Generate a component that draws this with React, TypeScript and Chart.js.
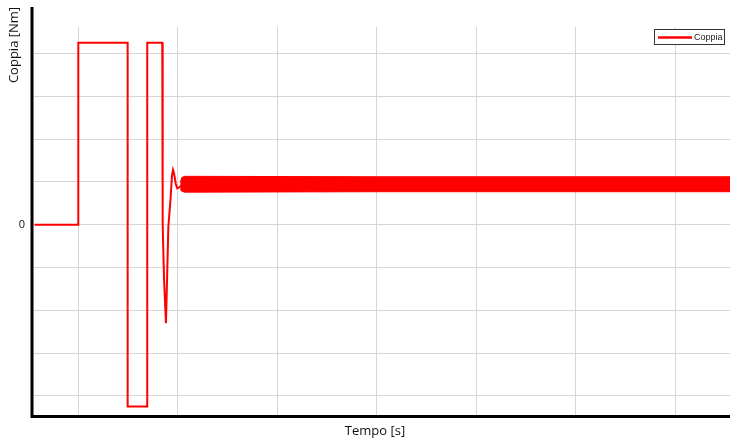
import React, { useEffect, useRef } from "react";
import { Chart, registerables } from "chart.js";

Chart.register(...registerables);

// Time axis (grid units) and torque values
const timeMain = [-0.44, 0, 0, 0.496, 0.496, 0.693, 0.693, 0.844, 0.848, 0.862, 0.881, 0.893, 0.905, 0.927, 0.942, 0.952, 0.962, 0.98, 0.995, 1.02, 1.05, 6.6];
const coppia = [0, 0, 4.25, 4.25, -4.25, -4.25, 4.25, 4.25, 0, -1.3, -2.3, -1.2, -0.05, 0.6, 1.15, 1.28, 1.2, 0.95, 0.85, 0.88, 0.95, 0.95];

// Ripple band of the steady-state torque
const timeBand = [1.025, 1.04, 1.07, 3.0, 6.6];
const bandUpper = [0.98, 1.1, 1.13, 1.12, 1.12];
const bandLower = [0.84, 0.78, 0.76, 0.77, 0.77];

const xGridTicks = [0, 1, 2, 3, 4, 5, 6];
const yGridTicks = [-4, -3, -2, -1, 0, 1, 2, 3, 4];
const yLabelled = [0];

const seriesLabel = "Coppia";
const xTitle = "Tempo [s]";
const yTitle = "Coppia [Nm]";

const RED = "#ff0000";
const GRID = "#d6d6d6";

const decorations = {
  id: "decorations",
  afterDraw(chart: any) {
    const ctx = chart.ctx;
    const area = chart.chartArea;
    ctx.save();
    // thick axis lines
    ctx.strokeStyle = "#000";
    ctx.lineWidth = 3;
    ctx.beginPath();
    ctx.moveTo(area.left, 7);
    ctx.lineTo(area.left, area.bottom + 1.5);
    ctx.moveTo(area.left - 1.5, area.bottom + 0.5);
    ctx.lineTo(area.right, area.bottom + 0.5);
    ctx.stroke();

    // axis titles
    ctx.fillStyle = "#111";
    ctx.font = "13px 'Open Sans'";
    ctx.textAlign = "center";
    ctx.textBaseline = "middle";
    ctx.fillText(xTitle, 375, 431);
    ctx.save();
    ctx.translate(14, 45);
    ctx.rotate(-Math.PI / 2);
    ctx.fillText(yTitle, 0, 0);
    ctx.restore();

    // legend
    ctx.fillStyle = "#fff";
    ctx.fillRect(654.5, 29.5, 70, 15);
    ctx.strokeStyle = "#333";
    ctx.lineWidth = 1;
    ctx.strokeRect(654.5, 29.5, 70, 15);
    ctx.strokeStyle = RED;
    ctx.lineWidth = 2.5;
    ctx.beginPath();
    ctx.moveTo(658, 37.5);
    ctx.lineTo(692, 37.5);
    ctx.stroke();
    ctx.fillStyle = "#222";
    ctx.font = "9px 'Liberation Sans'";
    ctx.textAlign = "left";
    ctx.fillText(chart.data.datasets[0].label, 694, 38);
    ctx.restore();
  },
};

export default function App() {
  const ref = useRef<HTMLCanvasElement>(null);
  useEffect(() => {
    if (!ref.current) return;
    const chart = new Chart(ref.current, {
      type: "line",
      data: {
        datasets: [
          {
            label: seriesLabel,
            data: timeMain.map((t, i) => ({ x: t, y: coppia[i] })),
            borderColor: RED,
            borderWidth: 2,
            pointRadius: 0,
            fill: false,
            tension: 0,
          },
          {
            label: "band-upper",
            data: timeBand.map((t, i) => ({ x: t, y: bandUpper[i] })),
            borderColor: RED,
            borderWidth: 1,
            pointRadius: 0,
            fill: false,
            tension: 0,
          },
          {
            label: "band-lower",
            data: timeBand.map((t, i) => ({ x: t, y: bandLower[i] })),
            borderColor: RED,
            backgroundColor: RED,
            borderWidth: 1,
            pointRadius: 0,
            fill: "-1",
            tension: 0,
          },
        ],
      },
      options: {
        animation: false,
        responsive: false,
        maintainAspectRatio: false,
        devicePixelRatio: 1,
        layout: { padding: { top: 27, left: 0, right: 0, bottom: 0 } },
        plugins: { legend: { display: false }, tooltip: { enabled: false } },
        scales: {
          x: {
            type: "linear",
            min: -0.4653,
            max: 6.5497,
            border: { display: false },
            grid: { color: GRID, lineWidth: 1, drawTicks: false },
            ticks: { display: false },
            afterBuildTicks: (scale: any) => {
              scale.ticks = xGridTicks.map((v) => ({ value: v }));
            },
            afterFit: (scale: any) => {
              scale.height = 23;
            },
          },
          y: {
            type: "linear",
            min: -4.47,
            max: 4.619,
            border: { display: false },
            grid: { color: GRID, lineWidth: 1, drawTicks: false },
            ticks: {
              autoSkip: false,
              padding: 7,
              color: "#111",
              font: { family: "'Open Sans'", size: 11 },
              callback: (v: any) => (yLabelled.includes(Number(v)) ? String(v) : ""),
            },
            afterBuildTicks: (scale: any) => {
              scale.ticks = yGridTicks.map((v) => ({ value: v }));
            },
            afterFit: (scale: any) => {
              scale.width = 32;
            },
          },
        },
      },
      plugins: [decorations],
    });
    return () => chart.destroy();
  }, []);

  return (
    <div style={{ position: "fixed", left: 0, top: 0, width: 730, height: 439, background: "#fff" }}>
      <canvas ref={ref} width={730} height={439} style={{ display: "block", width: 730, height: 439 }} />
    </div>
  );
}
